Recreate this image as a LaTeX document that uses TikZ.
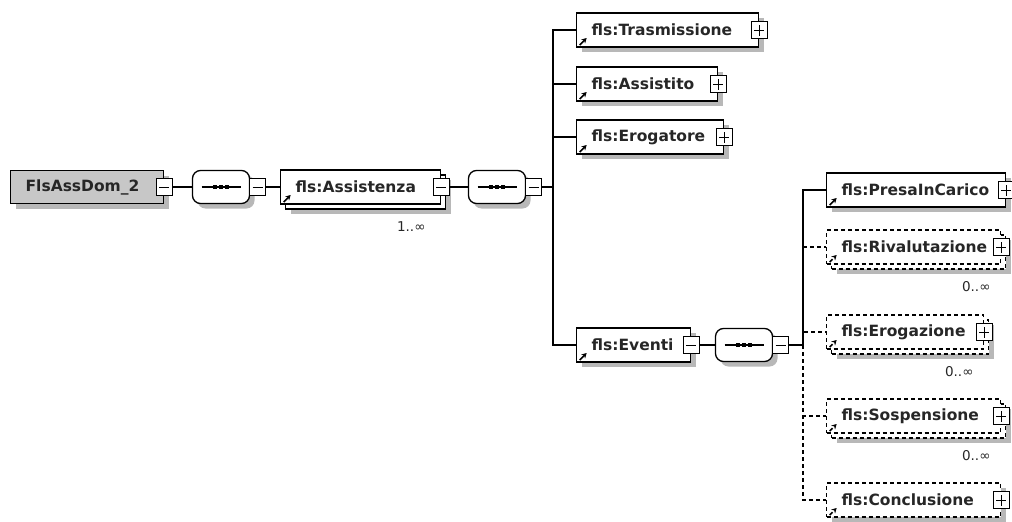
\documentclass[tikz,border=0pt]{standalone}
\usepackage{fontspec}
\setmainfont{DejaVu Sans}
\usepackage{tikz}
\usetikzlibrary{
    arrows.meta,
    positioning,
    shadows
}

\begin{document}
\begin{tikzpicture}[
        x=1pt, y=-1pt,
        font=\bfseries\fontsize{15.5}{17}\selectfont,
        shadowed/.style={
            drop shadow={shadow xshift=5pt, shadow yshift=-5pt,
                fill=black!28, opacity=1}
        },
        rootbox/.style={
            rectangle,
            draw=black,
            line width=1.3pt,
            fill=black!22,
            text=black!85,
            text width=#1,
            align=left,
            inner sep=0pt,
            minimum height=33pt,
            execute at begin node={\noindent\hspace*{15pt}},
            shadowed
        },
        refbox/.style={
            rectangle,
            draw=black,
            line width=1.3pt,
            fill=white,
            text=black!85,
            text width=#1,
            align=left,
            inner sep=0pt,
            minimum height=34pt,
            execute at begin node={\noindent\hspace*{15pt}},
            path picture={
                \draw[-{Stealth[length=5pt,width=5.5pt]}, line width=1.6pt]
                    ([shift={(3pt,2pt)}]path picture bounding box.south west)
                    -- ++(7pt,7pt);
            }
        },
        elembox/.style={refbox=#1, shadowed},
        optbox/.style={refbox=#1, dashed, dash pattern=on 4pt off 3pt},
        optone/.style={optbox=#1, shadowed},
        backbox/.style={
            rectangle,
            draw=black,
            line width=1.3pt,
            fill=white,
            minimum width=#1,
            minimum height=34pt,
            inner sep=0pt,
            shadowed
        },
        optback/.style={backbox=#1, dash pattern=on 4pt off 3pt},
        seqbox/.style={
            rectangle,
            rounded corners=8pt,
            draw=black,
            line width=1.3pt,
            fill=white,
            minimum width=57pt,
            minimum height=33pt,
            inner sep=0pt,
            shadowed,
            path picture={
                \draw[black, sharp corners, line width=1.2pt]
                    ([xshift=9pt]path picture bounding box.west)
                    -- ([xshift=-9pt]path picture bounding box.east);
                \foreach \dx in {-8,-2,4}
                    \fill[black, sharp corners]
                        ([shift={(\dx pt,-2pt)}]path picture bounding box.center)
                        rectangle ++(4pt,4pt);
            }
        },
        togbox/.style={
            rectangle,
            draw=black,
            line width=1.1pt,
            fill=white,
            minimum width=16pt,
            minimum height=17pt,
            inner sep=0pt
        },
        minusbox/.style={
            togbox,
            path picture={
                \draw[line width=1pt]
                    ([xshift=3pt]path picture bounding box.west)
                    -- ([xshift=-3pt]path picture bounding box.east);
            }
        },
        plusbox/.style={
            togbox,
            path picture={
                \draw[line width=1pt]
                    ([xshift=3pt]path picture bounding box.west)
                    -- ([xshift=-3pt]path picture bounding box.east);
                \draw[line width=1pt]
                    ([yshift=3pt]path picture bounding box.south)
                    -- ([yshift=-3pt]path picture bounding box.north);
            }
        },
        mult/.style={
            font=\fontsize{13.5}{15}\selectfont,
            text=black!85,
            inner sep=0pt
        },
        wire/.style={
            line width=1.2pt
        },
        optwire/.style={
            wire,
            dash pattern=on 4pt off 3pt
        }
    ]

    \useasboundingbox (0,0) rectangle (1012,522);

    \node[rootbox=153pt, anchor=west] (doc) at (10,187) {FlsAssDom\_2};
    \node[minusbox] (docx) at (doc.east) {};

    \node[seqbox, right=19pt of docx] (seqa) {};
    \node[minusbox, right=-1pt of seqa] (seqax) {};

    \node[backbox=160pt, anchor=west] (assistb) at (285,192) {};
    \node[refbox=160pt, anchor=west] (assist) at (280,187) {fls:Assistenza};
    \node[minusbox] (assistx) at (assist.east) {};
    \node[mult] (assistm) at ([shift={(-35pt,-17pt)}]assistb.south east) {1..∞};

    \node[seqbox, right=18pt of assistx] (seqb) {};
    \node[minusbox, right=-1pt of seqb] (seqbx) {};

    \node[elembox=182pt, anchor=west] (trasm) at (576,30) {fls:Trasmissione};
    \node[plusbox] (trasmx) at (trasm.east) {};
    \node[elembox=141pt, anchor=west] (assistito) at (576,84) {fls:Assistito};
    \node[plusbox] (assistitox) at (assistito.east) {};
    \node[elembox=147pt, anchor=west] (erogatore) at (576,137) {fls:Erogatore};
    \node[plusbox] (erogatorex) at (erogatore.east) {};
    \node[elembox=114pt, anchor=west] (eventi) at (576,345) {fls:Eventi};
    \node[minusbox] (eventix) at (eventi.east) {};

    \node[seqbox, right=15pt of eventix] (seqc) {};
    \node[minusbox, right=-1pt of seqc] (seqcx) {};

    \node[elembox=179pt, anchor=west] (presa) at (826,190) {fls:PresaInCarico};
    \node[plusbox] (presax) at (presa.east) {};

    \node[optback=174pt, anchor=west] (rivalb) at (831,252) {};
    \node[optbox=174pt, anchor=west] (rival) at (826,247) {fls:Rivalutazione};
    \node[plusbox] (rivalx) at (rival.east) {};
    \node[mult] (rivalm) at ([shift={(-30pt,-17pt)}]rivalb.south east) {0..∞};

    \node[optback=157pt, anchor=west] (erogb) at (831,337) {};
    \node[optbox=157pt, anchor=west] (erog) at (826,332) {fls:Erogazione};
    \node[plusbox] (erogx) at (erog.east) {};
    \node[mult] (erogm) at ([shift={(-30pt,-17pt)}]erogb.south east) {0..∞};

    \node[optback=174pt, anchor=west] (sospb) at (831,421) {};
    \node[optbox=174pt, anchor=west] (sosp) at (826,416) {fls:Sospensione};
    \node[plusbox] (sospx) at (sosp.east) {};
    \node[mult] (sospm) at ([shift={(-30pt,-17pt)}]sospb.south east) {0..∞};

    \node[optone=174pt, anchor=west] (concl) at (826,500) {fls:Conclusione};
    \node[plusbox] (conclx) at (concl.east) {};

    \coordinate (barb) at (553,187);
    \coordinate (barc) at (803,345);

    \draw[wire] (docx.east) -- (seqa.west);
    \draw[wire] (seqax.east) -- (assist.west);
    \draw[wire] (assistx.east) -- (seqb.west);
    \draw[wire] (seqbx.east) -- (barb);
    \draw[wire] (barb) |- (trasm.west);
    \draw[wire] (barb) |- (assistito.west);
    \draw[wire] (barb) |- (erogatore.west);
    \draw[wire] (barb) |- (eventi.west);

    \draw[wire] (eventix.east) -- (seqc.west);
    \draw[wire] (seqcx.east) -- (barc);
    \draw[wire] (barc) |- (presa.west);
    \draw[optwire] (barc) |- (rival.west);
    \draw[optwire] (barc) |- (erog.west);
    \draw[optwire] (barc) |- (sosp.west);
    \draw[optwire] (barc) |- (concl.west);

\end{tikzpicture}
\end{document}
